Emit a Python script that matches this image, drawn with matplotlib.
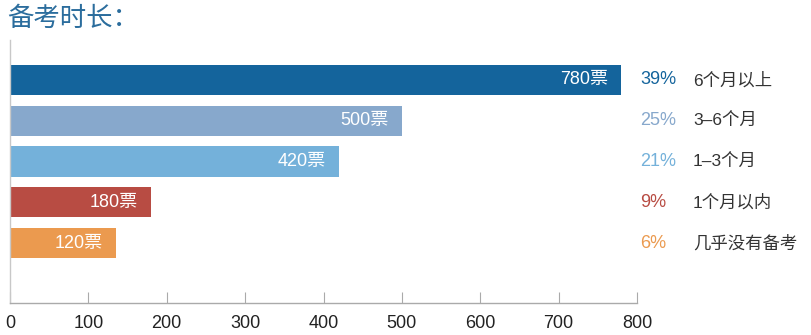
import matplotlib
matplotlib.use("Agg")
import matplotlib.pyplot as plt
from matplotlib import font_manager as fm

plt.rcParams['font.family'] = ['Noto Sans CJK SC', 'DejaVu Sans']

title = "备考时长："
categories = ["6个月以上", "3–6个月", "1–3个月", "1个月以内", "几乎没有备考"]
bar_lengths = [780, 500, 420, 180, 135]   # lengths as drawn in the picture
vote_labels = ["780票", "500票", "420票", "180票", "120票"]
percents = ["39%", "25%", "21%", "9%", "6%"]
colors = ["#14649c", "#87a8cc", "#74b1da", "#b84c43", "#eb9a4f"]
xticks = [0, 100, 200, 300, 400, 500, 600, 700, 800]

names = {f.name for f in fm.fontManager.ttflist}
tick_family = ['Liberation Sans Narrow'] if 'Liberation Sans Narrow' in names else ['Liberation Sans']
mixed = ['Liberation Sans', 'Noto Sans CJK SC', 'DejaVu Sans']

W, H = 812, 335
fig = plt.figure(figsize=(W / 100, H / 100), dpi=100)
ax = fig.add_axes([10 / W, (H - 303) / H, (637 - 10) / W, (303 - 40) / H])

y = list(range(len(bar_lengths)))
ax.barh(y, bar_lengths, height=0.74, color=colors, zorder=2)
ax.set_xlim(0, 800)
ax.set_ylim(5.47, -0.98)

for yi, v, lab in zip(y, bar_lengths, vote_labels):
    ax.text(v - 13 / 0.7838, yi, lab, color="white", fontsize=13, family=mixed,
            ha="right", va="center", zorder=3)

for yi, p, c, cat in zip(y, percents, colors, categories):
    yp = ax.transData.transform((0, yi))[1]
    fig.text(640 / W, yp / H, p, color=c, fontsize=13, ha="left", va="center",
             family=['Liberation Sans', 'DejaVu Sans'])
    fig.text(693 / W, yp / H, cat, color="#333333", fontsize=12.5, ha="left", va="center",
             family=mixed)

ax.set_xticks(xticks)
ax.set_xticklabels([str(t) for t in xticks], family=tick_family, fontsize=13, color="#222222")
ax.set_yticks([])
ax.tick_params(axis="x", direction="in", length=8, width=0.8, color="#aaaaaa", pad=9)
for s in ["top", "right"]:
    ax.spines[s].set_visible(False)
ax.spines["bottom"].set_color("#aaaaaa")
ax.spines["left"].set_color("#c8c8c8")
ax.spines["bottom"].set_linewidth(1.0)
ax.spines["left"].set_linewidth(1.0)

fig.text(7 / W, 1 - 18 / H, title, color="#2b6d9d", fontsize=19, ha="left", va="center")

fig.savefig("out.png", dpi=100)
